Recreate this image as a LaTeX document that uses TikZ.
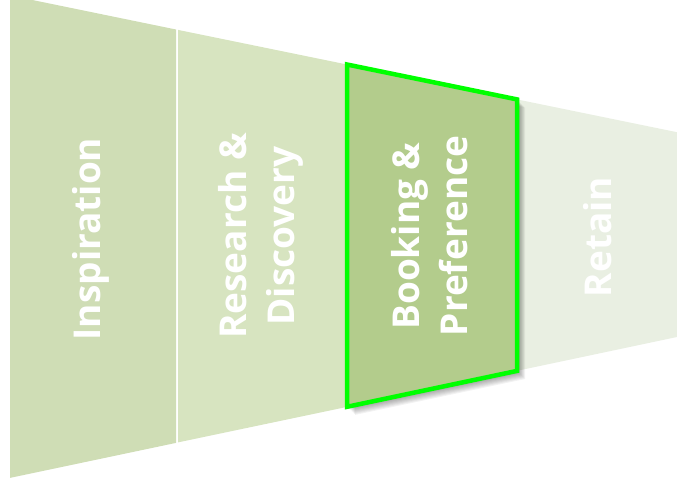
\documentclass[tikz,border=0pt]{standalone}
\usepackage{fontspec}
\setmainfont{Open Sans}
\usetikzlibrary{calc}
\definecolor{segA}{HTML}{CFDDB5}
\definecolor{segB}{HTML}{D7E4C0}
\definecolor{segC}{HTML}{B3CC8C}
\definecolor{segD}{HTML}{E9EFE2}
\definecolor{hiGreen}{HTML}{00FF00}
\tikzset{
  seglabel/.style={text=white, font=\bfseries\fontsize{37}{48}\selectfont, align=center, rotate=90, inner sep=0pt},
  segshape/.style={draw=none}
}
\begin{document}
\begin{tikzpicture}[x=1pt,y=-1pt]
\useasboundingbox (0,0) rectangle (677,489);
% segment 1
\fill[segA] (10,-4.6) -- (176,29.5) -- (176,442.9) -- (10,477.9) -- cycle;
% segment 2
\fill[segB] (178,29.9) -- (347,64.5) -- (347,406.9) -- (178,442.4) -- cycle;
% segment 4
\fill[segD] (519,99.8) -- (677,132.2) -- (677,337) -- (519,370.4) -- cycle;
% shadow of segment 3
\foreach \k in {1,...,9}{
  \fill[black, opacity=0.05] ($(347,64.5)+(\k*0.9,\k*0.9)$) -- ++(170,34.9) -- ++(0,271.5) -- ++(-170,35.9) -- cycle;
}
% segment 3 highlighted
\filldraw[fill=segC, draw=hiGreen, line width=4.5pt, line join=miter] (347,64.5) -- (517,99.4) -- (517,370.9) -- (347,406.8) -- cycle;
% labels
\node[seglabel] (n1) at (91,239) {Inspiration};
\node[seglabel] (n2) at (261,236) {Research \&\\Discovery};
\node[seglabel] (n3) at (430,236) {Booking \&\\Preference};
\node[seglabel] (n4) at (598,237) {Retain};
\end{tikzpicture}
\end{document}
